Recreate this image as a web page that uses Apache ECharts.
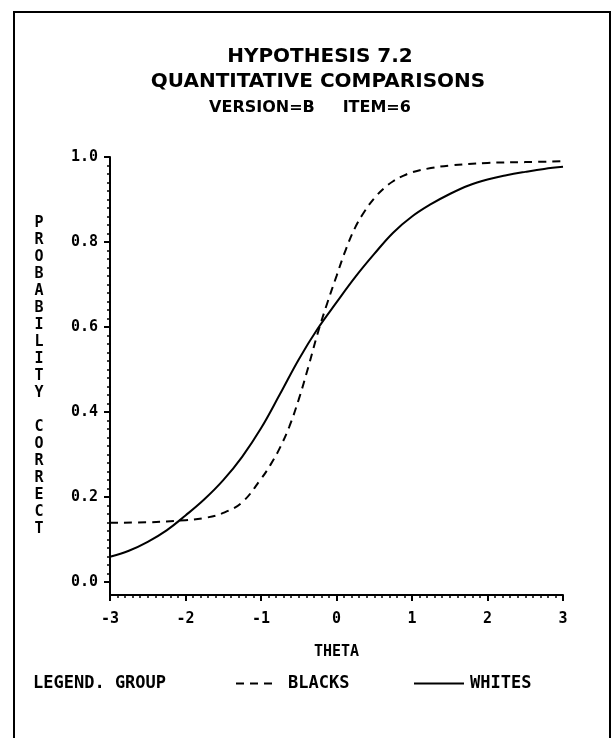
<!DOCTYPE html>
<html>
<head>
<meta charset="utf-8">
<script src="https://cdn.jsdelivr.net/npm/echarts@6/dist/echarts.min.js"></script>
<style>
  html, body { margin: 0; padding: 0; background: #ffffff; }
  #chart { width: 615px; height: 738px; }
</style>
</head>
<body>
<div id="chart"></div>
<script>
// Item characteristic curves for the two groups
const titleLines = ['HYPOTHESIS 7.2', 'QUANTITATIVE COMPARISONS', 'VERSION=B     ITEM=6'];
const xAxisTitle = 'THETA';
const yAxisTitle = 'PROBABILITY CORRECT';
const legendTitle = 'LEGEND. GROUP';
const groupNames = ['BLACKS', 'WHITES'];

const thetaBlacks = [-3, -2.5, -2, -1.75, -1.5, -1.25, -1, -0.875, -0.75, -0.625, -0.5, -0.375,
                     -0.25, -0.125, 0, 0.125, 0.25, 0.375, 0.5, 0.625, 0.75, 0.875, 1, 1.25, 1.5, 2, 2.5, 3];
const blacks = [0.140, 0.141, 0.146, 0.151, 0.163, 0.188, 0.243, 0.276, 0.316, 0.366, 0.430, 0.505,
                0.585, 0.655, 0.720, 0.783, 0.835, 0.873, 0.903, 0.926, 0.943, 0.955, 0.964, 0.974, 0.980, 0.986, 0.988, 0.990];

const thetaWhites = [-3, -2.75, -2.5, -2.25, -2, -1.75, -1.5, -1.25, -1, -0.75, -0.5, -0.25,
                     0, 0.25, 0.5, 0.75, 1, 1.25, 1.5, 1.75, 2, 2.25, 2.5, 2.75, 3];
const whites = [0.060, 0.074, 0.095, 0.122, 0.157, 0.195, 0.240, 0.295, 0.362, 0.442, 0.524, 0.596,
                0.658, 0.718, 0.772, 0.822, 0.860, 0.889, 0.913, 0.933, 0.947, 0.957, 0.965, 0.972, 0.977];

const yMajorTicks = [0, 0.2, 0.4, 0.6, 0.8, 1.0];

// minor tick marks every 0.02 along the probability axis
const yMinorTicks = [];
for (let i = 1; i < 50; i++) {
  if (i % 10 !== 0) yMinorTicks.push(+(i * 0.02).toFixed(2));
}

const MONO = '"DejaVu Sans Mono", "Liberation Mono", monospace';
const SANS = '"DejaVu Sans", "Liberation Sans", sans-serif';

const toPairs = (xs, ys) => xs.map((x, i) => [x, ys[i]]);

const chart = echarts.init(document.getElementById('chart'), null, { renderer: 'canvas' });

const baseY = {
  type: 'value',
  min: -0.03,
  max: 1.0,
  position: 'left',
  offset: 0,
  splitLine: { show: false }
};

const legendBase = {
  top: 670,
  itemHeight: 14,
  itemStyle: { color: 'rgba(0,0,0,0)', borderWidth: 0, opacity: 0 }
};

chart.setOption({
  backgroundColor: '#ffffff',
  animation: false,
  title: [
    { text: titleLines[0], left: 315, top: 41, textAlign: 'center',
      textStyle: { fontFamily: SANS, fontWeight: 'bold', fontSize: 20, lineHeight: 22, color: '#000' } },
    { text: titleLines[1], left: 313, top: 66, textAlign: 'center',
      textStyle: { fontFamily: SANS, fontWeight: 'bold', fontSize: 20, lineHeight: 22, color: '#000' } },
    { text: titleLines[2], left: 305, top: 93, textAlign: 'center',
      textStyle: { fontFamily: SANS, fontWeight: 'bold', fontSize: 16, lineHeight: 20, color: '#000' } }
  ],
  grid: { left: 110, right: 52, top: 157, bottom: 143, containLabel: false },
  xAxis: {
    type: 'value',
    min: -3,
    max: 3,
    interval: 1,
    name: xAxisTitle,
    nameLocation: 'middle',
    nameGap: 50,
    nameTextStyle: { fontFamily: MONO, fontWeight: 'bold', fontSize: 15, color: '#000' },
    axisLine: { show: true, onZero: false, lineStyle: { color: '#000', width: 2 } },
    axisTick: { show: true, length: 6, lineStyle: { color: '#000', width: 2 } },
    minorTick: { show: true, splitNumber: 10, length: 3, lineStyle: { color: '#000', width: 1.5 } },
    axisLabel: { margin: 17, fontFamily: MONO, fontWeight: 'bold', fontSize: 15, color: '#000',
                 formatter: v => String(v) },
    splitLine: { show: false },
    minorSplitLine: { show: false }
  },
  yAxis: [
    Object.assign({}, baseY, {
      name: yAxisTitle.split('').join('\n'),
      nameLocation: 'middle',
      nameRotate: 0,
      nameGap: 71,
      nameTextStyle: { fontFamily: MONO, fontWeight: 'bold', fontSize: 15, lineHeight: 17, color: '#000', align: 'center' },
      axisLine: { show: true, onZero: false, lineStyle: { color: '#000', width: 2 } },
      axisTick: { show: true, length: 6, customValues: yMajorTicks, lineStyle: { color: '#000', width: 2 } },
      axisLabel: { show: true, margin: 12, customValues: yMajorTicks, fontFamily: MONO, fontWeight: 'bold',
                   fontSize: 15, color: '#000', formatter: v => v.toFixed(1) }
    }),
    Object.assign({}, baseY, {
      axisLine: { show: false, onZero: false },
      axisTick: { show: true, length: 3, customValues: yMinorTicks, lineStyle: { color: '#000', width: 1.5 } },
      axisLabel: { show: false }
    })
  ],
  legend: [
    Object.assign({}, legendBase, {
      data: [groupNames[0]], left: 230, itemWidth: 38,
      textStyle: { fontFamily: MONO, fontWeight: 'bold', fontSize: 17, color: '#000', padding: [0, 0, 0, 9] }
    }),
    Object.assign({}, legendBase, {
      data: [groupNames[1]], left: 408, itemWidth: 50,
      textStyle: { fontFamily: MONO, fontWeight: 'bold', fontSize: 17, color: '#000', padding: [0, 0, 0, 1] }
    })
  ],
  graphic: [
    { type: 'rect', silent: true, z: -1,
      shape: { x: 14, y: 12, width: 596, height: 745 },
      style: { fill: 'none', stroke: '#000', lineWidth: 2 } },
    { type: 'text', left: 33, top: 675,
      style: { text: legendTitle, font: 'bold 17px ' + MONO, fill: '#000' } }
  ],
  series: [
    {
      name: groupNames[0],
      type: 'line',
      data: toPairs(thetaBlacks, blacks),
      smooth: 0.4,
      symbol: 'none',
      lineStyle: { color: '#000', width: 2, type: [8, 6] },
      itemStyle: { color: '#000' }
    },
    {
      name: groupNames[1],
      type: 'line',
      data: toPairs(thetaWhites, whites),
      smooth: 0.4,
      symbol: 'none',
      lineStyle: { color: '#000', width: 2, type: 'solid' },
      itemStyle: { color: '#000' }
    }
  ]
});
</script>
</body>
</html>
